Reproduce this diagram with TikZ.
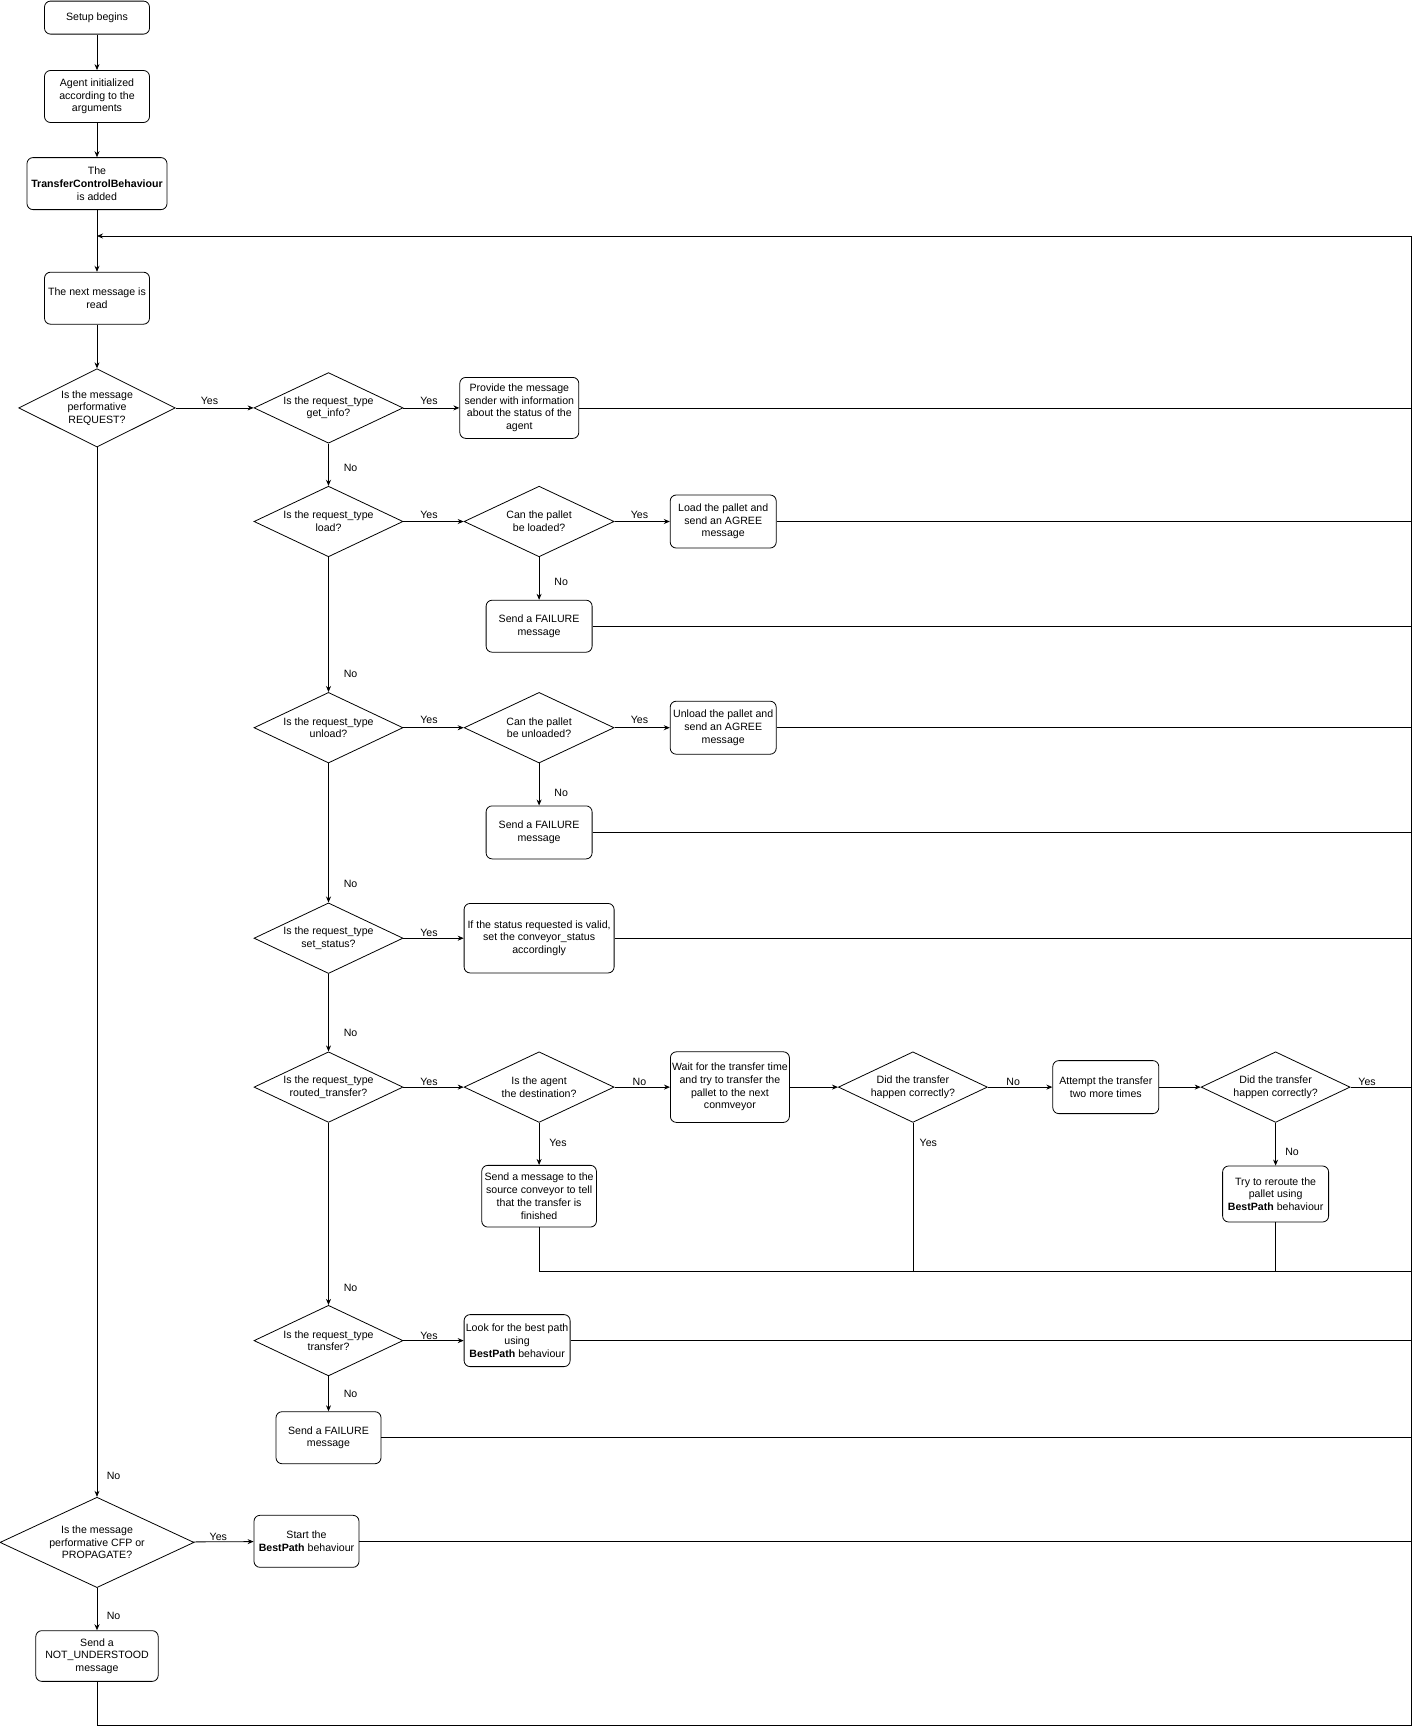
\documentclass[tikz,border=0pt]{standalone}
\usepackage{fontspec}
\setmainfont{Liberation Sans}
\usetikzlibrary{shapes.geometric,arrows.meta}

\begin{document}
\begin{tikzpicture}[x=1pt,y=-1pt,line width=0.8pt,
    font=\fontsize{10.6}{12.7}\selectfont,
    stepbox/.style={draw,rounded corners=6pt,align=center,inner sep=1pt,minimum height=52},
    decision/.style={draw,diamond,shape aspect=2.1,align=center,inner sep=0pt,minimum width=149,minimum height=70.6},
    flow/.style={-{Stealth[length=6pt,width=5pt]}},
    lbl/.style={inner sep=0pt}]
    \useasboundingbox (0,0) rectangle (1420,1729);
    \coordinate (busTop) at (1411,236);
    \coordinate (busBot) at (1411,1725.4);
    \coordinate (mergeR) at (1411,1271.2);

    \node[stepbox,minimum width=105,minimum height=33] (setup) at (97,17.6) {Setup begins};
    \node[stepbox,minimum width=105] (init) at (97,96.5) {Agent initialized\\according to the\\arguments};
    \node[stepbox,minimum width=140] (tcb) at (97,183.6) {The\\\textbf{TransferControlBehaviour}\\is added};
    \node[stepbox,minimum width=105] (next) at (97,298.2) {The next message is\\read};
    \node[decision,minimum width=156.6,minimum height=78.3] (isreq) at (97,407.9) {Is the message\\performative\\REQUEST?};
    \node[decision] (qinfo) at (328.5,407.9) {Is the request\_type\\get\_info?};
    \node[stepbox,minimum width=119,minimum height=61] (provide) at (519.3,407.9) {Provide the message\\sender with information\\about the status of the\\agent};
    \node[decision] (qload) at (328.5,521.5) {Is the request\_type\\load?};
    \node[decision,minimum width=150] (canload) at (539.1,521.5) {Can the pallet\\be loaded?};
    \node[stepbox,minimum width=106,minimum height=53] (loadok) at (723.2,521.5) {Load the pallet and\\send an AGREE\\message};
    \node[stepbox,minimum width=106] (loadfail) at (539.1,626.2) {Send a FAILURE\\message};
    \node[decision] (qunload) at (328.5,727.7) {Is the request\_type\\unload?};
    \node[decision,minimum width=150] (canunload) at (539.1,727.7) {Can the pallet\\be unloaded?};
    \node[stepbox,minimum width=106,minimum height=53] (unloadok) at (723.2,727.7) {Unload the pallet and\\send an AGREE\\message};
    \node[stepbox,minimum width=106,minimum height=53] (unloadfail) at (539.1,832.4) {Send a FAILURE\\message};
    \node[decision] (qstatus) at (328.5,938.2) {Is the request\_type\\set\_status?};
    \node[stepbox,minimum width=150,minimum height=69.5] (setstatus) at (539.1,938.2) {If the status requested is valid,\\set the conveyor\_status\\accordingly};
    \node[decision] (qrouted) at (328.5,1087.1) {Is the request\_type\\routed\_transfer?};
    \node[decision,minimum width=150] (isdest) at (539.1,1087.1) {Is the agent\\the destination?};
    \node[stepbox,minimum width=119,minimum height=70.6] (waitbox) at (729.9,1087.1) {Wait for the transfer time\\and try to transfer the\\pallet to the next\\conmveyor};
    \node[decision] (didfirst) at (912.9,1087.1) {Did the transfer\\happen correctly?};
    \node[stepbox,minimum width=106,minimum height=53] (attempt) at (1105.8,1087.1) {Attempt the transfer\\two more times};
    \node[decision] (didsecond) at (1275.6,1087.1) {Did the transfer\\happen correctly?};
    \node[stepbox,minimum width=114.7,minimum height=61.7] (notify) at (539.1,1196.2) {Send a message to the\\source conveyor to tell\\that the transfer is\\finished};
    \node[stepbox,minimum width=106,minimum height=56] (reroute) at (1275.6,1194) {Try to reroute the\\pallet using\\\textbf{BestPath} behaviour};
    \node[decision] (qtransfer) at (328.5,1340.6) {Is the request\_type\\transfer?};
    \node[stepbox,minimum width=106] (lookpath) at (517.1,1340.6) {Look for the best path\\using\\\textbf{BestPath} behaviour};
    \node[stepbox,minimum width=105] (reqfail) at (328.5,1437.7) {Send a FAILURE\\message};
    \node[decision,minimum width=194,minimum height=90.4] (iscfp) at (97,1542.4) {Is the message\\performative CFP or\\PROPAGATE?};
    \node[stepbox,minimum width=105] (startbp) at (306.5,1541.3) {Start the\\\textbf{BestPath} behaviour};
    \node[stepbox,minimum width=122.4,minimum height=50.7] (notund) at (97,1656) {Send a\\NOT\_UNDERSTOOD\\message};

    \draw[flow] (setup) -- (init);
    \draw[flow] (init) -- (tcb);
    \draw[flow] (tcb) -- (next);
    \draw[flow] (next) -- (isreq);
    \draw[flow] (isreq) -- (qinfo);
    \draw[flow] (qinfo) -- (provide);
    \draw[flow] (qinfo) -- (qload);
    \draw[flow] (qload) -- (canload);
    \draw[flow] (canload) -- (loadok);
    \draw[flow] (canload) -- (loadfail);
    \draw[flow] (qload) -- (qunload);
    \draw[flow] (qunload) -- (canunload);
    \draw[flow] (canunload) -- (unloadok);
    \draw[flow] (canunload) -- (unloadfail);
    \draw[flow] (qunload) -- (qstatus);
    \draw[flow] (qstatus) -- (setstatus);
    \draw[flow] (qstatus) -- (qrouted);
    \draw[flow] (qrouted) -- (isdest);
    \draw[flow] (isdest) -- (waitbox);
    \draw[flow] (waitbox) -- (didfirst);
    \draw[flow] (didfirst) -- (attempt);
    \draw[flow] (attempt) -- (didsecond);
    \draw[flow] (isdest) -- (notify);
    \draw[flow] (didsecond) -- (reroute);
    \draw[flow] (qrouted) -- (qtransfer);
    \draw[flow] (qtransfer) -- (lookpath);
    \draw[flow] (qtransfer) -- (reqfail);
    \draw[flow] (isreq) -- (iscfp);
    \draw[flow] (iscfp) -- (startbp);
    \draw[flow] (iscfp) -- (notund);

    \draw (provide.east) -- (provide.east -| busTop);
    \draw (loadok.east) -- (loadok.east -| busTop);
    \draw (loadfail.east) -- (loadfail.east -| busTop);
    \draw (unloadok.east) -- (unloadok.east -| busTop);
    \draw (unloadfail.east) -- (unloadfail.east -| busTop);
    \draw (setstatus.east) -- (setstatus.east -| busTop);
    \draw (didsecond.east) -- (didsecond.east -| busTop);
    \draw (notify.south) |- (mergeR);
    \draw (didfirst.south) -- (didfirst.south |- mergeR);
    \draw (reroute.south) -- (reroute.south |- mergeR);
    \draw (lookpath.east) -- (lookpath.east -| busTop);
    \draw (reqfail.east) -- (reqfail.east -| busTop);
    \draw (startbp.east) -- (startbp.east -| busTop);
    \draw[flow] (notund.south) |- (busBot) -- (busTop) -- (busTop -| tcb.south);

    \node[lbl] (yes1) at (209.5,401.3) {Yes};
    \node[lbl] (yes2) at (428.9,401.3) {Yes};
    \node[lbl] (no1) at (350.6,467.5) {No};
    \node[lbl] (yes3) at (428.9,514.9) {Yes};
    \node[lbl] (yes4) at (639.5,514.9) {Yes};
    \node[lbl] (no2) at (561.2,582.1) {No};
    \node[lbl] (no3) at (350.6,673.6) {No};
    \node[lbl] (yes5) at (428.9,719.9) {Yes};
    \node[lbl] (yes6) at (639.5,719.9) {Yes};
    \node[lbl] (no4) at (561.2,792.7) {No};
    \node[lbl] (no5) at (350.6,884.2) {No};
    \node[lbl] (yes7) at (428.9,932.7) {Yes};
    \node[lbl] (no6) at (350.6,1033.0) {No};
    \node[lbl] (yes8) at (428.9,1081.6) {Yes};
    \node[lbl] (no7) at (639.5,1081.6) {No};
    \node[lbl] (no8) at (1013.2,1081.6) {No};
    \node[lbl] (yes9) at (1367.1,1081.6) {Yes};
    \node[lbl] (yes10) at (557.9,1143.3) {Yes};
    \node[lbl] (yes11) at (928.3,1143.3) {Yes};
    \node[lbl] (no9) at (1292.1,1152.1) {No};
    \node[lbl] (no10) at (350.6,1287.7) {No};
    \node[lbl] (yes12) at (428.9,1336.2) {Yes};
    \node[lbl] (no11) at (350.6,1393.6) {No};
    \node[lbl] (no12) at (113.6,1476.2) {No};
    \node[lbl] (yes13) at (218.3,1536.9) {Yes};
    \node[lbl] (no13) at (113.6,1616.3) {No};
\end{tikzpicture}
\end{document}
